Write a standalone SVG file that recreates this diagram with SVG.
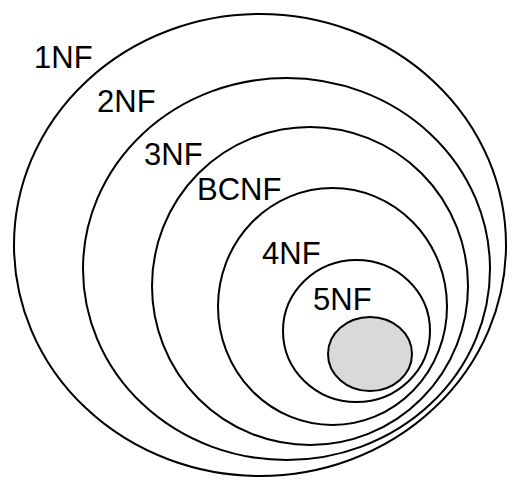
<svg xmlns="http://www.w3.org/2000/svg" width="523" height="491" viewBox="0 0 523 491">
<style>
.e{fill:none;stroke:#000;stroke-width:2}
.g{fill:#d9d9d9;stroke:#000;stroke-width:2}
.t{font-family:"Liberation Sans",Arial,sans-serif;font-size:31px;fill:#000}
</style>
<rect width="523" height="491" fill="#fff"/>
<g id="nf1"><ellipse class="e" cx="260" cy="245" rx="246" ry="231"/><text class="t" x="34" y="68">1NF</text></g>
<g id="nf2"><ellipse class="e" cx="286.5" cy="269" rx="203.5" ry="191"/><text class="t" x="97" y="112">2NF</text></g>
<g id="nf3"><ellipse class="e" cx="310" cy="286" rx="158" ry="159"/><text class="t" x="144" y="165">3NF</text></g>
<g id="bcnf"><ellipse class="e" cx="332.5" cy="306.5" rx="114.5" ry="118.5"/><text class="t" x="197" y="200">BCNF</text></g>
<g id="nf4"><ellipse class="e" cx="356.5" cy="331" rx="73.5" ry="71"/><text class="t" x="262" y="264">4NF</text></g>
<g id="nf5"><ellipse class="g" cx="370" cy="354" rx="42" ry="37"/><text class="t" x="313" y="310">5NF</text></g>
</svg>
